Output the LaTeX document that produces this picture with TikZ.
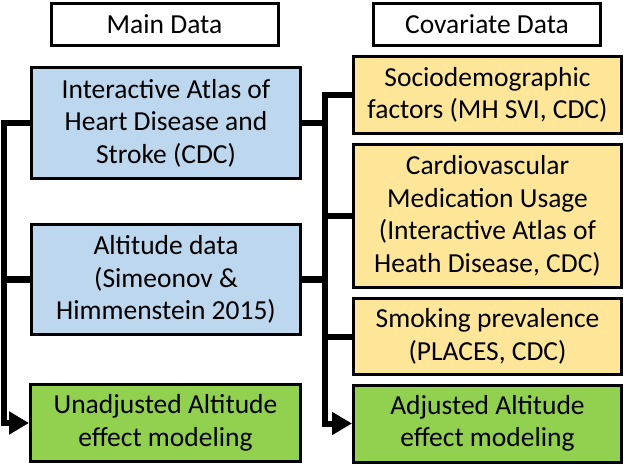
\documentclass[tikz,border=0pt]{standalone}
\usepackage{fontspec}
\setmainfont{Carlito}
\usetikzlibrary{arrows.meta, calc}
\definecolor{mainblue}{RGB}{189,215,238}
\definecolor{covyellow}{RGB}{255,230,153}
\definecolor{modgreen}{RGB}{146,208,80}
\tikzset{
  box/.style={draw=black, line width=3pt, inner sep=0pt, align=center,
    font=\fontsize{27.5}{32.5}\selectfont},
  header/.style={box, fill=white, minimum width=227pt, minimum height=42pt},
  mainbox/.style={box, fill=mainblue, minimum width=269pt},
  covbox/.style={box, fill=covyellow, minimum width=268pt},
  modelbox/.style={box, fill=modgreen, minimum height=77pt},
  bus/.style={line width=6pt, line join=miter},
  tip/.style={-{Triangle[length=20pt,width=22pt]}}
}
\begin{document}
\begin{tikzpicture}[x=1pt, y=-1pt]
\useasboundingbox (0,0) rectangle (624,465);

\node[header] (main) at (164.5,24.5) {Main Data};
\node[header] (cov) at (487,24.5) {Covariate Data};

\node[mainbox, minimum height=111pt] (atlas) at (166,123) {Interactive Atlas of\\Heart Disease and\\Stroke (CDC)};
\node[mainbox, minimum height=110pt] (alt) at (166,279.5) {Altitude data\\(Simeonov \&\\Himmenstein 2015)};
\node[modelbox, minimum width=270pt] (unadj) at (165.5,423) {Unadjusted Altitude\\effect modeling};

\node[covbox, minimum height=77pt] (socio) at (487.5,95) {Sociodemographic\\factors (MH SVI, CDC)};
\node[covbox, minimum height=143pt] (cardio) at (487.5,216) {Cardiovascular\\Medication Usage\\(Interactive Atlas of\\Heath Disease, CDC)};
\node[covbox, minimum height=76pt] (smoke) at (487.5,336.5) {Smoking prevalence\\(PLACES, CDC)};
\node[modelbox, minimum width=268pt] (adj) at (487.5,423.5) {Adjusted Altitude\\effect modeling};

\coordinate (lbus) at (4,0);
\coordinate (rbus) at (325,0);

\draw[bus, tip] (atlas.west) -- (atlas.west -| lbus) -- (unadj.west -| lbus) -- (unadj.west);
\draw[bus] (alt.west) -- (alt.west -| lbus);

\draw[bus, tip] (socio.west) -- (socio.west -| rbus) -- (adj.west -| rbus) -- (adj.west);
\draw[bus] (cardio.west) -- (cardio.west -| rbus);
\draw[bus] (smoke.west) -- (smoke.west -| rbus);
\draw[bus] (atlas.east) -- (atlas.east -| rbus);
\draw[bus] (alt.east) -- (alt.east -| rbus);
\end{tikzpicture}
\end{document}
